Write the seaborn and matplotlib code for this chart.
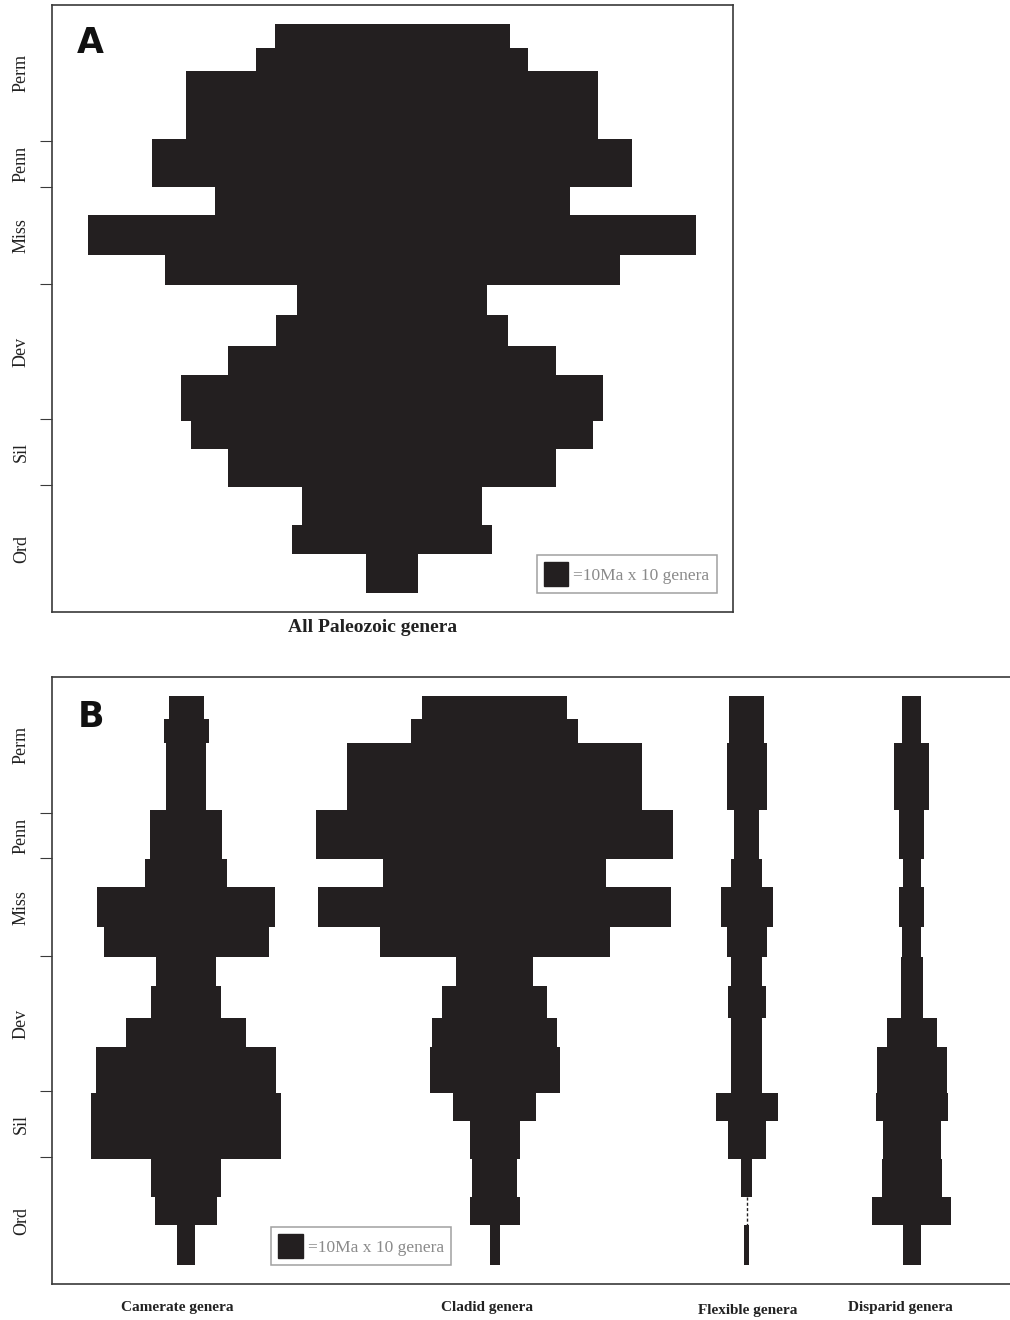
import numpy as np
import matplotlib
matplotlib.use("Agg")
import matplotlib.pyplot as plt
from matplotlib.patches import Patch
from matplotlib.transforms import blended_transform_factory
import seaborn as sns

# ---------------- data ----------------
# time bins (Ma), youngest at top
bin_edges_ma = [249.8, 259.7, 269.5, 297.9, 318.2, 330.1, 346.9, 359.4, 371.9,
                385.3, 397.2, 416.6, 428.4, 444.5, 460.6, 472.4, 488.9]
# number of genera per bin (spindle width)
all_genera = [94, 109, 165, 192, 142, 243, 182, 76, 93, 131, 169, 161, 131, 72, 80, 21]
camerate_genera = [14, 18, 16, 29, 33, 71, 66, 24, 28, 48, 72, 76, 76, 28, 25, 7]
cladid_genera = [58, 67, 118, 143, 89, 141, 92, 31, 42, 50, 52, 33, 20, 18, 20, 4]
flexible_genera = [14, 14, 16, 10, 12.5, 21, 16, 12.5, 15, 12.5, 12.5, 25, 15, 4.5, 0, 2]
disparid_genera = [7.5, 7.5, 14, 10, 7, 10, 7.5, 9, 9, 20, 28, 29, 23, 24, 31.5, 7]
period_names = ["Perm", "Penn", "Miss", "Dev", "Sil", "Ord"]
period_boundaries_ma = [299.0, 318.1, 359.2, 416.0, 443.7]
group_labels = ["Camerate genera", "Cladid genera", "Flexible genera", "Disparid genera"]
legend_label = "=10Ma x 10 genera"

# ---------------- style ----------------
sns.set_theme(style="ticks")
plt.rcParams["font.family"] = ["Liberation Serif", "DejaVu Serif"]
INK = "#231f20"
SPINE = "#3a3a3a"
SERIF = ["Liberation Serif", "DejaVu Serif"]

W, H = 1010, 1320
fig = plt.figure(figsize=(W / 100, H / 100), dpi=100)
fig.patch.set_facecolor("white")


def fig_rect(l, t, r, b):
    return [l / W, 1 - b / H, (r - l) / W, (b - t) / H]


axA = fig.add_axes(fig_rect(52, 5, 733, 612))
axB = fig.add_axes(fig_rect(52, 676.5, 1030, 1284))

YLIM = (497.0, 241.7)
edges = np.asarray(bin_edges_ma, float)


def spindle(ax, center, widths):
    w = np.asarray(widths, float)
    half = np.append(w, w[-1]) / 2
    ax.fill_betweenx(edges, center - half, center + half, step="post",
                     color=INK, linewidth=0)
    for i, wi in enumerate(w):
        if wi == 0:
            ax.vlines(center, edges[i], edges[i + 1], colors=INK,
                      linestyles=(0, (2.2, 1.6)), linewidth=1.0)


def style_axes(ax, xlim):
    ax.set_xlim(*xlim)
    ax.set_ylim(*YLIM)
    ax.set_facecolor("white")
    for s in ax.spines.values():
        s.set_visible(True)
        s.set_color(SPINE)
        s.set_linewidth(1.2)
    ax.set_xticks([])
    ax.set_yticks(period_boundaries_ma)
    ax.set_yticklabels([])
    ax.tick_params(axis="y", which="major", direction="out", length=8.6,
                   width=0.8, color=SPINE)
    lims = [YLIM[1]] + period_boundaries_ma + [YLIM[0]]
    centers = [(a + b) / 2 for a, b in zip(lims[:-1], lims[1:])]
    ax.set_yticks(centers, minor=True)
    ax.set_yticklabels(period_names, minor=True, rotation=90, va="center",
                       fontsize=13, family=SERIF, color="#222222")
    ax.tick_params(axis="y", which="minor", length=0, pad=16)


def add_legend(ax, x0, y0):
    handle = Patch(facecolor=INK, edgecolor=INK)
    leg = ax.legend([handle], [legend_label], loc="lower left",
                    bbox_to_anchor=(x0, y0), borderaxespad=0, frameon=True,
                    fancybox=False, framealpha=1, edgecolor="#a0a0a0",
                    handlelength=1.42, handleheight=1.78, handletextpad=0.3,
                    borderpad=0.4, prop={"family": SERIF, "size": 12.5})
    leg.get_frame().set_linewidth(1.1)
    for t in leg.get_texts():
        t.set_color("#8a8a8a")


# ---------------- Panel A ----------------
style_axes(axA, (-136.0, 136.4))
spindle(axA, 0.0, all_genera)
add_legend(axA, 0.7117, 0.031)
axA.text(0.036, 0.966, "A", transform=axA.transAxes, ha="left", va="top",
         fontsize=25, fontweight="bold", family="DejaVu Sans", color="#111111")
trA = blended_transform_factory(axA.transData, axA.transAxes)
axA.text(-7.8, -0.025, "All Paleozoic genera", transform=trA, ha="center",
         va="center", fontsize=14, fontweight="bold", family=SERIF,
         color="#222222")

# ---------------- Panel B ----------------
style_axes(axB, (0.0, 391.2))
group_centers = [53.6, 177.0, 277.9, 343.9]
group_values = [camerate_genera, cladid_genera, flexible_genera, disparid_genera]
for c, vals in zip(group_centers, group_values):
    spindle(axB, c, vals)
add_legend(axB, 0.2239, 0.031)
axB.text(0.0266, 0.962, "B", transform=axB.transAxes, ha="left", va="top",
         fontsize=25, fontweight="bold", family="DejaVu Sans", color="#111111")
trB = blended_transform_factory(axB.transData, axB.transAxes)
label_x = [50.0, 174.0, 278.4, 339.2]
label_y = [-0.038, -0.038, -0.043, -0.038]
for x, y, lab in zip(label_x, label_y, group_labels):
    axB.text(x, y, lab, transform=trB, ha="center", va="center", fontsize=11,
             fontweight="bold", family=SERIF, color="#222222")

fig.savefig("out.png", dpi=100, facecolor="white")
